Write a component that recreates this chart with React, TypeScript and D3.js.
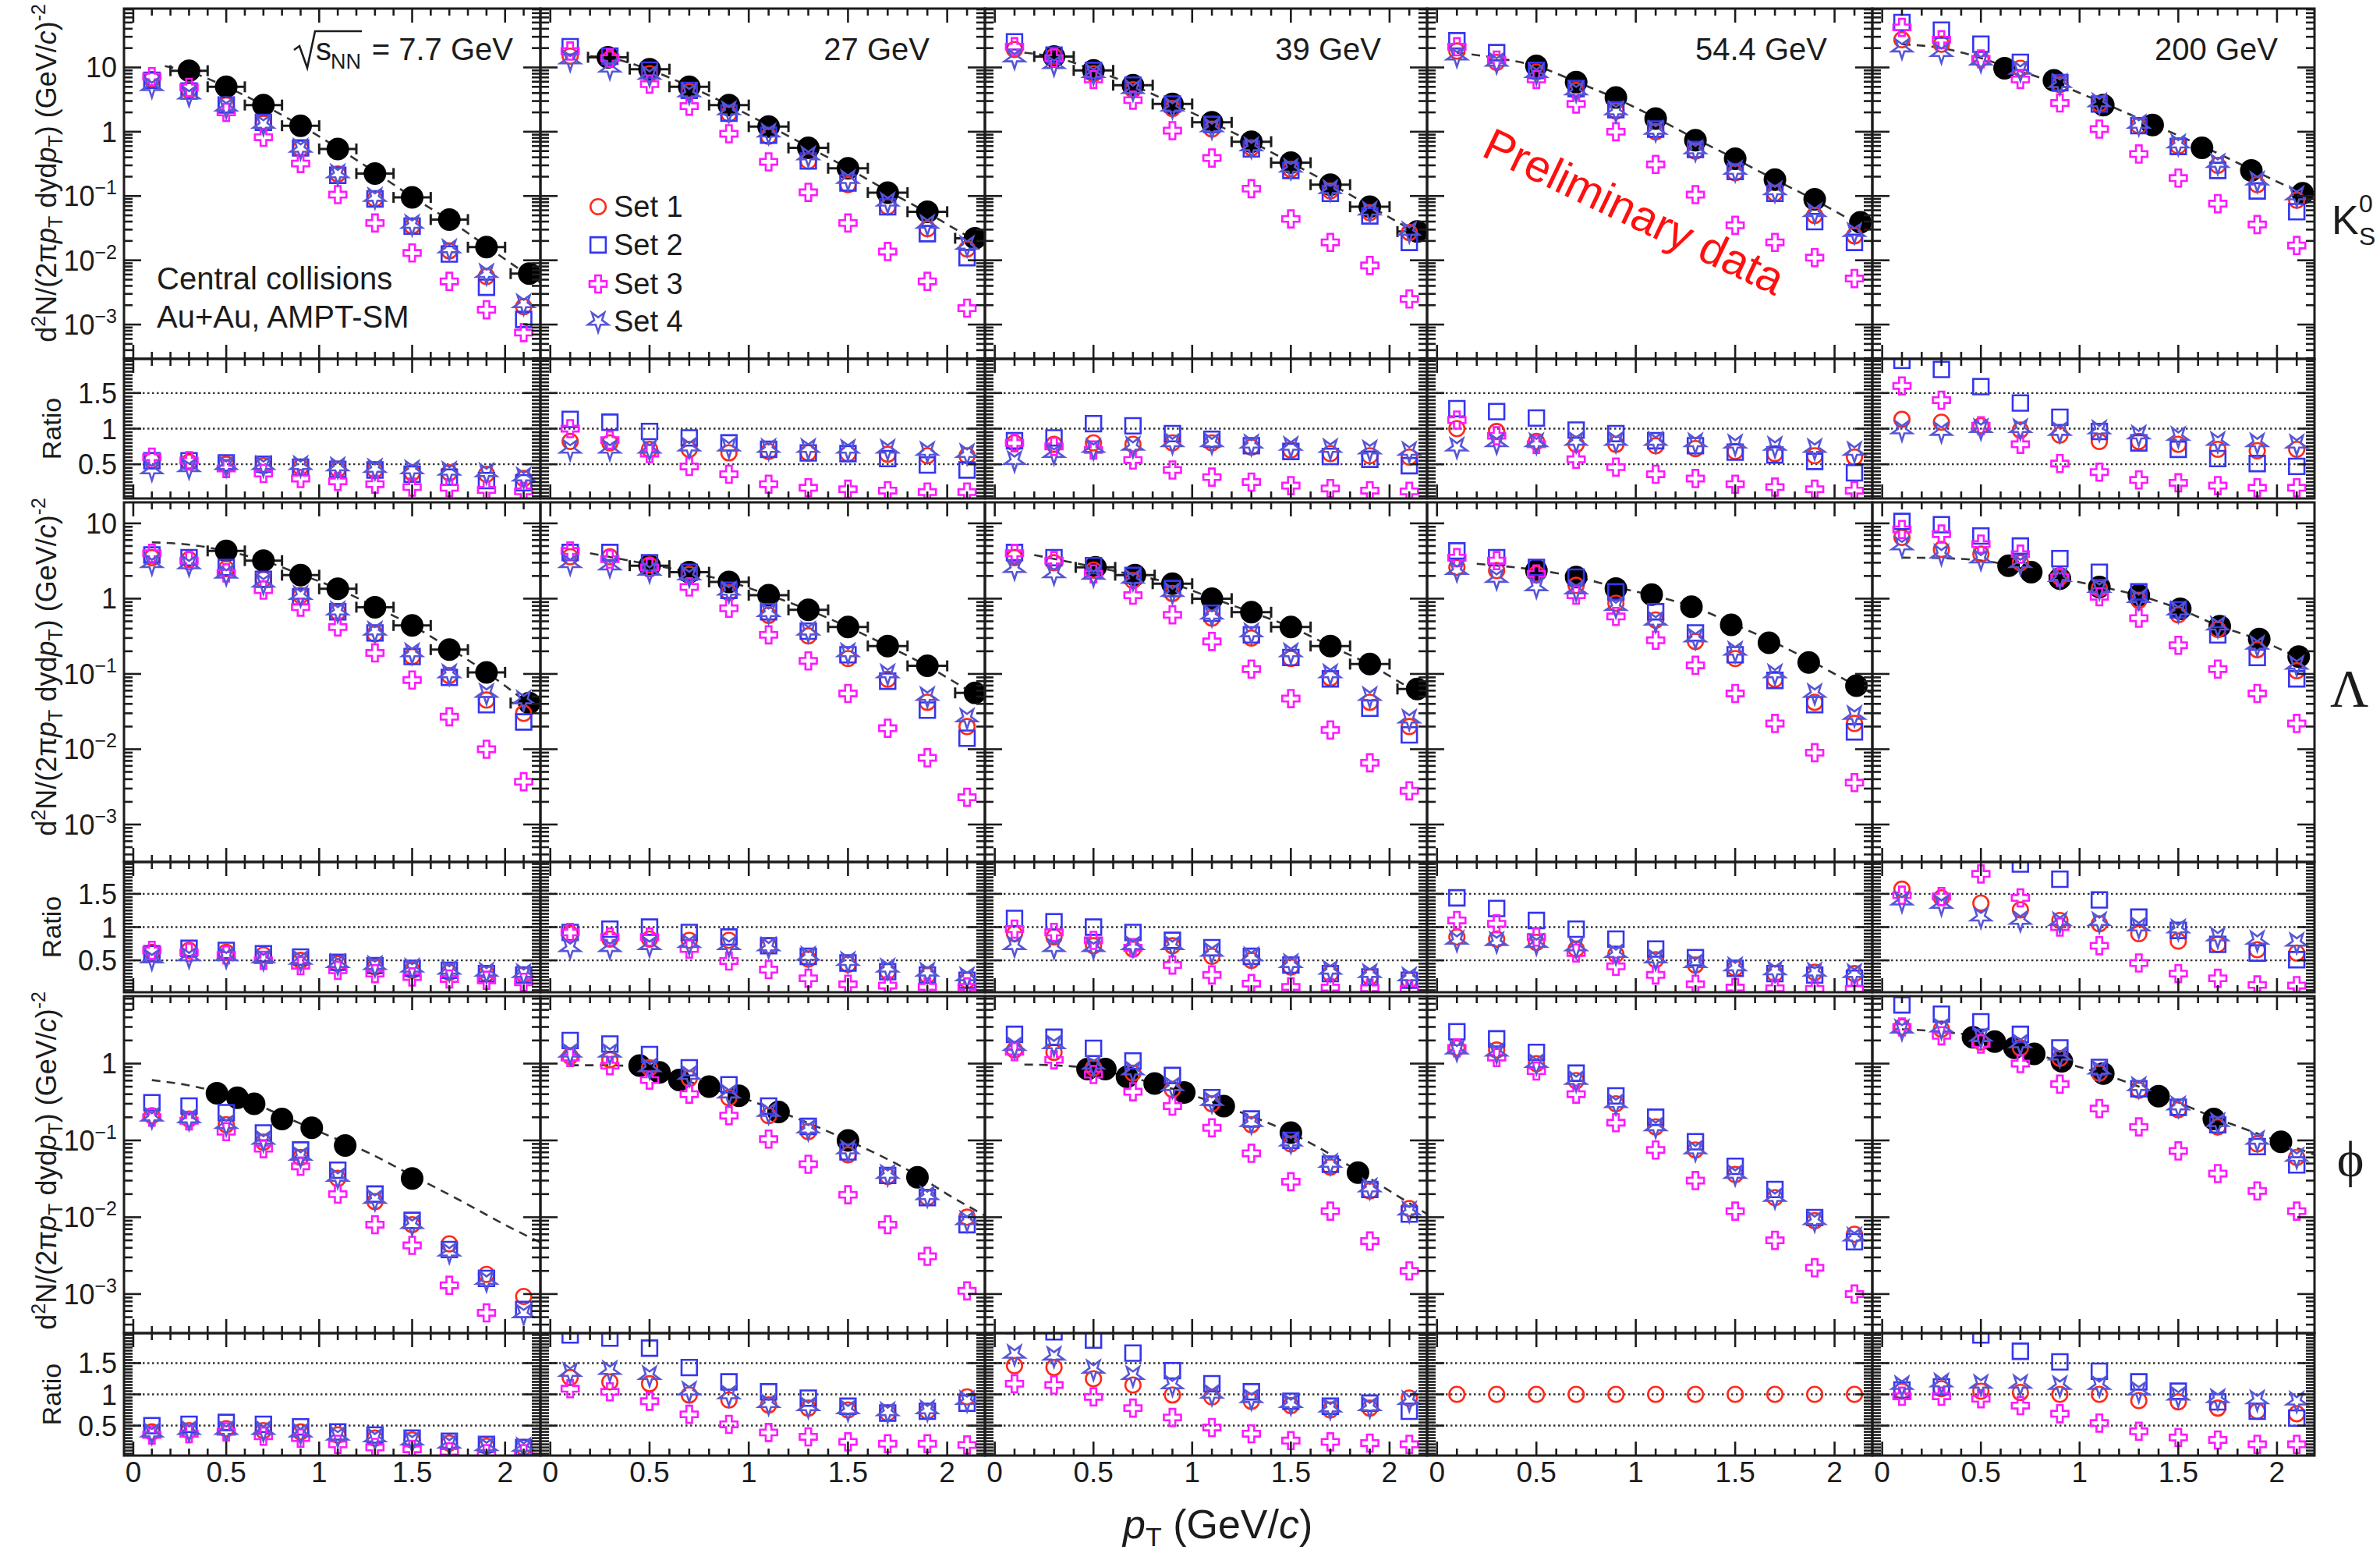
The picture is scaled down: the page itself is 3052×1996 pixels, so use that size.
import React from 'react';
import * as d3 from 'd3';

// ---- data ----
const pT = [0.1, 0.3, 0.5, 0.7, 0.9, 1.1, 1.3, 1.5, 1.7, 1.9, 2.1];
const energyLabels = ['7.7', '27', '39', '54.4', '200'];
const setLabels = ['Set 1', 'Set 2', 'Set 3', 'Set 4'];
const xTickValues = [0, 0.5, 1, 1.5, 2];
const xTickLabels = ['0', '0.5', '1', '1.5', '2'];
const ratioTickValues = [0.5, 1, 1.5];
const ratioTickLabels = ['0.5', '1', '1.5'];

// K0S spectra, one row per energy (7.7, 27, 39, 54.4, 200)
const k0sSet1 = [
  [6.5, 4.5, 2.6, 1.35, 0.55, 0.22, 0.09, 0.034, 0.014, 0.0056, 0.0019],
  [15, 13.5, 8, 4.2, 1.9, 0.85, 0.35, 0.15, 0.068, 0.031, 0.015],
  [19, 15, 8, 4.5, 2.3, 1.1, 0.56, 0.26, 0.12, 0.055, 0.027],
  [18, 12, 8.5, 4.4, 2.1, 1.0, 0.5, 0.23, 0.11, 0.05, 0.024],
  [27, 23, 13.6, 9.7, 5.4, 2.7, 1.24, 0.6, 0.3, 0.15, 0.086],
];
const k0sSet2 = [
  [6.3, 4.3, 2.6, 1.4, 0.56, 0.21, 0.09, 0.034, 0.0125, 0.0038, 0.0012],
  [21, 15, 9.1, 4.4, 1.95, 0.88, 0.35, 0.16, 0.068, 0.026, 0.011],
  [25, 15.6, 9, 5.3, 2.7, 1.3, 0.54, 0.25, 0.11, 0.049, 0.019],
  [26, 17, 9, 4.7, 2.2, 1.1, 0.53, 0.24, 0.11, 0.04, 0.019],
  [50, 38, 23, 12, 5.8, 2.7, 1.24, 0.59, 0.25, 0.12, 0.057],
];
const k0sSet3 = [
  [7.2, 4.9, 2.0, 0.82, 0.32, 0.105, 0.038, 0.013, 0.0047, 0.0017, 0.00075],
  [18, 14, 5.5, 2.5, 0.93, 0.34, 0.114, 0.038, 0.0137, 0.0047, 0.0018],
  [21, 14, 6.5, 3.1, 1.04, 0.39, 0.13, 0.044, 0.019, 0.0083, 0.0025],
  [21, 13, 6.5, 2.7, 1.0, 0.31, 0.105, 0.035, 0.019, 0.011, 0.0052],
  [42, 27, 13.6, 6.5, 2.8, 1.1, 0.45, 0.19, 0.076, 0.036, 0.017],
];
const k0sSet4 = [
  [5.0, 3.7, 2.4, 1.3, 0.55, 0.22, 0.095, 0.036, 0.015, 0.0062, 0.0021],
  [13, 9.7, 7.5, 4.0, 2.1, 0.95, 0.42, 0.18, 0.08, 0.036, 0.017],
  [14, 11, 8, 4.5, 2.4, 1.15, 0.58, 0.27, 0.125, 0.058, 0.028],
  [15, 12, 8, 4.3, 2.1, 1.05, 0.52, 0.25, 0.12, 0.055, 0.027],
  [20, 17, 12.5, 9, 5.6, 2.8, 1.3, 0.64, 0.32, 0.17, 0.1],
];
const k0sRatio1 = [
  [0.55, 0.53, 0.5, 0.48, 0.46, 0.43, 0.42, 0.38, 0.38, 0.36, 0.3],
  [0.82, 0.8, 0.71, 0.71, 0.66, 0.68, 0.66, 0.65, 0.64, 0.62, 0.62],
  [0.8, 0.78, 0.8, 0.78, 0.8, 0.8, 0.74, 0.7, 0.65, 0.62, 0.6],
  [1.0, 0.96, 0.82, 0.78, 0.78, 0.76, 0.72, 0.68, 0.65, 0.62, 0.6],
  [1.13, 1.09, 1.04, 0.98, 0.91, 0.82, 0.82, 0.78, 0.71, 0.69, 0.71],
];
const k0sRatio2 = [
  [0.55, 0.55, 0.52, 0.5, 0.46, 0.43, 0.42, 0.36, 0.32, 0.27, 0.24],
  [1.13, 1.09, 0.96, 0.87, 0.8, 0.71, 0.66, 0.65, 0.58, 0.49, 0.42],
  [0.83, 0.87, 1.07, 1.04, 0.93, 0.85, 0.76, 0.68, 0.61, 0.57, 0.48],
  [1.28, 1.24, 1.15, 0.98, 0.93, 0.83, 0.76, 0.67, 0.63, 0.54, 0.38],
  [1.96, 1.83, 1.59, 1.36, 1.16, 0.96, 0.8, 0.71, 0.58, 0.51, 0.47],
];
const k0sRatio3 = [
  [0.6, 0.55, 0.44, 0.37, 0.3, 0.26, 0.22, 0.18, 0.17, 0.14, 0.12],
  [1.0, 0.84, 0.65, 0.47, 0.36, 0.22, 0.17, 0.15, 0.13, 0.11, 0.11],
  [0.8, 0.75, 0.7, 0.56, 0.42, 0.32, 0.25, 0.2, 0.16, 0.13, 0.12],
  [1.12, 0.9, 0.78, 0.57, 0.46, 0.36, 0.3, 0.22, 0.18, 0.15, 0.13],
  [1.6, 1.4, 1.04, 0.78, 0.51, 0.39, 0.28, 0.24, 0.2, 0.17, 0.17],
];
const k0sRatio4 = [
  [0.42, 0.45, 0.48, 0.48, 0.48, 0.46, 0.44, 0.42, 0.4, 0.38, 0.32],
  [0.71, 0.71, 0.71, 0.74, 0.74, 0.72, 0.72, 0.71, 0.71, 0.68, 0.65],
  [0.55, 0.65, 0.72, 0.75, 0.8, 0.8, 0.78, 0.75, 0.72, 0.7, 0.68],
  [0.74, 0.8, 0.8, 0.82, 0.82, 0.82, 0.8, 0.78, 0.75, 0.72, 0.68],
  [0.98, 0.96, 1.0, 1.0, 0.96, 0.98, 0.91, 0.89, 0.82, 0.8, 0.78],
];
const k0sDataPt = [
  [0.3, 0.5, 0.7, 0.9, 1.1, 1.3, 1.5, 1.7, 1.9, 2.13],
  [0.29, 0.5, 0.7, 0.9, 1.1, 1.3, 1.5, 1.7, 1.9, 2.14],
  [0.3, 0.5, 0.7, 0.9, 1.1, 1.3, 1.5, 1.7, 1.9, 2.14],
  [0.5, 0.7, 0.9, 1.1, 1.3, 1.5, 1.7, 1.9, 2.13],
  [0.62, 0.87, 1.12, 1.37, 1.62, 1.87, 2.13],
];
const k0sDataY = [
  [8.9, 5.0, 2.6, 1.24, 0.54, 0.224, 0.095, 0.043, 0.016, 0.0062],
  [14.4, 9.4, 5.0, 2.6, 1.2, 0.56, 0.27, 0.113, 0.057, 0.022],
  [14.8, 9, 5.3, 2.7, 1.4, 0.7, 0.33, 0.15, 0.068, 0.028],
  [10.6, 5.9, 3.4, 1.6, 0.74, 0.38, 0.18, 0.089, 0.039],
  [9.7, 6.3, 2.6, 1.27, 0.56, 0.25, 0.11],
];
const k0sFit = [
  [[0.17, 10.5], [0.3, 8.6], [0.5, 5.0], [0.7, 2.6], [0.9, 1.25], [1.1, 0.56], [1.3, 0.235], [1.5, 0.097], [1.7, 0.042], [1.9, 0.0165], [2.1, 0.0066], [2.19, 0.0045]],
  [[0.2, 15], [0.3, 14], [0.5, 9.2], [0.7, 5.1], [0.9, 2.6], [1.1, 1.25], [1.3, 0.58], [1.5, 0.27], [1.7, 0.12], [1.9, 0.055], [2.1, 0.024], [2.19, 0.017]],
  [[0.15, 17], [0.3, 14.5], [0.5, 9.2], [0.7, 5.3], [0.9, 2.75], [1.1, 1.4], [1.3, 0.7], [1.5, 0.33], [1.7, 0.155], [1.9, 0.07], [2.1, 0.031], [2.19, 0.022]],
  [[0.1, 17], [0.3, 14], [0.5, 10.5], [0.7, 6], [0.9, 3.3], [1.1, 1.65], [1.3, 0.78], [1.5, 0.38], [1.7, 0.18], [1.9, 0.087], [2.1, 0.04], [2.19, 0.03]],
  [[0.1, 23], [0.3, 20], [0.5, 14], [0.62, 10.5], [0.87, 5.8], [1.12, 2.8], [1.37, 1.3], [1.62, 0.6], [1.87, 0.26], [2.12, 0.115], [2.19, 0.095]],
];
const k0sErrBars = [true, true, true, false, false];

// Lambda
const lamSet1 = [
  [3.5, 3.3, 2.5, 1.8, 1.1, 0.66, 0.34, 0.17, 0.095, 0.045, 0.03],
  [3.6, 3.6, 2.8, 2.1, 1.2, 0.6, 0.32, 0.16, 0.085, 0.042, 0.02],
  [3.5, 3.0, 2.4, 1.74, 1.17, 0.55, 0.3, 0.16, 0.088, 0.042, 0.02],
  [2.6, 2.36, 2.13, 1.5, 0.87, 0.52, 0.27, 0.16, 0.085, 0.042, 0.022],
  [6.5, 4.5, 3.9, 3.0, 1.93, 1.36, 0.95, 0.61, 0.39, 0.21, 0.11],
];
const lamSet2 = [
  [3.8, 3.5, 2.6, 1.8, 1.06, 0.67, 0.35, 0.17, 0.09, 0.039, 0.023],
  [4.1, 4.1, 3.0, 2.24, 1.29, 0.67, 0.37, 0.18, 0.08, 0.033, 0.014],
  [4.1, 3.5, 2.74, 2.03, 1.36, 0.64, 0.33, 0.165, 0.086, 0.035, 0.0155],
  [4.3, 3.5, 2.6, 1.93, 1.23, 0.67, 0.35, 0.18, 0.082, 0.039, 0.017],
  [10.6, 9.6, 6.8, 5.0, 3.4, 2.24, 1.23, 0.71, 0.33, 0.165, 0.086],
];
const lamSet3 = [
  [4.0, 3.2, 2.2, 1.3, 0.77, 0.42, 0.19, 0.083, 0.027, 0.01, 0.0037],
  [4.3, 3.35, 2.6, 1.43, 0.745, 0.33, 0.149, 0.055, 0.019, 0.0077, 0.0023],
  [4.0, 3.2, 2.13, 1.11, 0.61, 0.27, 0.116, 0.047, 0.018, 0.0066, 0.0028],
  [3.5, 3.2, 2.13, 1.11, 0.58, 0.28, 0.13, 0.055, 0.022, 0.009, 0.0036],
  [8.3, 7.2, 5.3, 3.9, 1.93, 1.06, 0.55, 0.24, 0.116, 0.055, 0.022],
];
const lamSet4 = [
  [2.9, 2.8, 2.1, 1.6, 1.1, 0.68, 0.37, 0.19, 0.1, 0.055, 0.045],
  [2.9, 2.7, 2.3, 2.0, 1.25, 0.65, 0.37, 0.19, 0.1, 0.05, 0.026],
  [2.5, 2.13, 2.03, 1.8, 1.2, 0.6, 0.35, 0.19, 0.1, 0.05, 0.025],
  [2.36, 1.85, 1.43, 1.3, 0.78, 0.5, 0.3, 0.2, 0.1, 0.055, 0.028],
  [5.0, 3.9, 3.35, 2.9, 1.9, 1.36, 1.0, 0.68, 0.43, 0.24, 0.13],
];
const lamRatio1 = [
  [0.62, 0.65, 0.62, 0.58, 0.5, 0.45, 0.4, 0.35, 0.32, 0.3, 0.28],
  [0.9, 0.82, 0.82, 0.8, 0.8, 0.72, 0.52, 0.44, 0.33, 0.27, 0.2],
  [0.9, 0.85, 0.72, 0.67, 0.72, 0.56, 0.5, 0.4, 0.3, 0.25, 0.2],
  [0.85, 0.82, 0.77, 0.67, 0.59, 0.51, 0.43, 0.38, 0.3, 0.32, 0.3],
  [1.57, 1.44, 1.36, 1.26, 1.1, 1.05, 0.9, 0.79, 0.74, 0.66, 0.61],
];
const lamRatio2 = [
  [0.6, 0.68, 0.65, 0.6, 0.55, 0.47, 0.42, 0.38, 0.35, 0.3, 0.28],
  [0.92, 0.97, 1.0, 0.92, 0.85, 0.72, 0.56, 0.46, 0.33, 0.28, 0.2],
  [1.13, 1.08, 1.0, 0.92, 0.8, 0.69, 0.56, 0.43, 0.3, 0.25, 0.2],
  [1.44, 1.28, 1.1, 0.97, 0.82, 0.67, 0.54, 0.38, 0.3, 0.28, 0.23],
  [2.3, 2.2, 2.1, 1.95, 1.72, 1.41, 1.15, 0.95, 0.74, 0.61, 0.51],
];
const lamRatio3 = [
  [0.65, 0.62, 0.58, 0.5, 0.42, 0.35, 0.3, 0.25, 0.22, 0.2, 0.17],
  [0.92, 0.85, 0.85, 0.67, 0.49, 0.36, 0.23, 0.14, 0.12, 0.1, 0.1],
  [0.97, 0.92, 0.8, 0.69, 0.43, 0.28, 0.15, 0.1, 0.09, 0.08, 0.07],
  [1.1, 1.05, 0.85, 0.61, 0.41, 0.28, 0.14, 0.09, 0.08, 0.07, 0.07],
  [1.48, 1.46, 1.8, 1.44, 1.0, 0.72, 0.46, 0.3, 0.23, 0.13, 0.12],
];
const lamRatio4 = [
  [0.52, 0.55, 0.55, 0.52, 0.5, 0.45, 0.42, 0.38, 0.35, 0.32, 0.3],
  [0.69, 0.69, 0.72, 0.75, 0.72, 0.7, 0.56, 0.48, 0.38, 0.32, 0.25],
  [0.72, 0.69, 0.69, 0.72, 0.72, 0.62, 0.55, 0.45, 0.35, 0.3, 0.25],
  [0.8, 0.78, 0.75, 0.7, 0.6, 0.52, 0.45, 0.4, 0.34, 0.32, 0.3],
  [1.39, 1.34, 1.15, 1.1, 1.08, 1.08, 1.0, 0.97, 0.85, 0.8, 0.77],
];
const lamDataPt = [
  [0.5, 0.7, 0.9, 1.1, 1.3, 1.5, 1.7, 1.9, 2.13],
  [0.5, 0.7, 0.9, 1.1, 1.3, 1.5, 1.7, 1.9, 2.14],
  [0.51, 0.71, 0.9, 1.1, 1.3, 1.5, 1.7, 1.9, 2.14],
  [0.5, 0.7, 0.9, 1.08, 1.28, 1.48, 1.67, 1.87, 2.11],
  [0.64, 0.755, 0.9, 1.1, 1.3, 1.51, 1.71, 1.91, 2.11],
];
const lamDataY = [
  [4.3, 3.2, 2.05, 1.35, 0.77, 0.44, 0.21, 0.105, 0.041],
  [2.74, 2.24, 1.67, 1.11, 0.71, 0.42, 0.235, 0.128, 0.056],
  [2.6, 2.05, 1.58, 1.0, 0.66, 0.42, 0.235, 0.135, 0.063],
  [2.36, 1.93, 1.36, 1.13, 0.78, 0.45, 0.26, 0.142, 0.07],
  [2.74, 2.24, 1.84, 1.43, 1.11, 0.73, 0.43, 0.29, 0.17],
];
const lamFit = [
  [[0.1, 5.6], [0.3, 5.2], [0.5, 4.3], [0.7, 3.2], [0.9, 2.1], [1.1, 1.35], [1.3, 0.78], [1.5, 0.44], [1.7, 0.22], [1.9, 0.105], [2.1, 0.045], [2.19, 0.03]],
  [[0.2, 4.0], [0.5, 2.85], [0.7, 2.25], [0.9, 1.68], [1.1, 1.12], [1.3, 0.71], [1.5, 0.42], [1.7, 0.235], [1.9, 0.127], [2.1, 0.062], [2.19, 0.045]],
  [[0.2, 3.8], [0.5, 2.65], [0.7, 2.08], [0.9, 1.58], [1.1, 1.02], [1.3, 0.66], [1.5, 0.42], [1.7, 0.235], [1.9, 0.133], [2.1, 0.066], [2.19, 0.05]],
  [[0.2, 2.9], [0.5, 2.4], [0.7, 1.95], [0.9, 1.42], [1.1, 1.08], [1.3, 0.76], [1.5, 0.45], [1.7, 0.26], [1.9, 0.14], [2.1, 0.072], [2.19, 0.055]],
  [[0.1, 3.5], [0.3, 3.45], [0.5, 3.2], [0.64, 2.8], [0.76, 2.3], [0.9, 1.88], [1.1, 1.45], [1.3, 1.1], [1.5, 0.74], [1.7, 0.44], [1.9, 0.29], [2.1, 0.17], [2.19, 0.135]],
];
const lamErrBars = [true, true, true, false, false];

// phi
const phiSet1 = [
  [0.21, 0.19, 0.16, 0.095, 0.06, 0.032, 0.016, 0.008, 0.0045, 0.0018, 0.00093],
  [1.24, 1.12, 0.88, 0.64, 0.36, 0.21, 0.13, 0.065, 0.034, 0.018, 0.01],
  [1.5, 1.4, 0.88, 0.75, 0.46, 0.3, 0.16, 0.09, 0.045, 0.022, 0.013],
  [1.6, 1.5, 1.0, 0.6, 0.3, 0.15, 0.075, 0.036, 0.018, 0.009, 0.006],
  [3.0, 2.8, 1.9, 1.6, 1.17, 0.75, 0.45, 0.25, 0.15, 0.09, 0.06],
];
const phiSet2 = [
  [0.31, 0.28, 0.23, 0.125, 0.075, 0.041, 0.02, 0.0091, 0.0038, 0.0016, 0.00063],
  [2.0, 1.8, 1.31, 0.88, 0.53, 0.28, 0.152, 0.071, 0.035, 0.018, 0.008],
  [2.4, 2.2, 1.58, 1.08, 0.7, 0.36, 0.19, 0.1, 0.049, 0.023, 0.011],
  [2.6, 2.1, 1.4, 0.75, 0.38, 0.2, 0.096, 0.046, 0.023, 0.0099, 0.0048],
  [5.8, 4.4, 3.5, 2.4, 1.6, 0.89, 0.47, 0.27, 0.16, 0.083, 0.048],
];
const phiSet3 = [
  [0.2, 0.18, 0.13, 0.078, 0.046, 0.02, 0.008, 0.0043, 0.0013, 0.00057, 0.0002],
  [1.2, 0.94, 0.61, 0.4, 0.21, 0.104, 0.049, 0.0196, 0.008, 0.0031, 0.0011],
  [1.43, 1.12, 0.72, 0.43, 0.28, 0.146, 0.068, 0.029, 0.012, 0.0049, 0.002],
  [1.6, 1.2, 0.8, 0.4, 0.17, 0.075, 0.03, 0.012, 0.005, 0.0022, 0.001],
  [3.0, 2.3, 1.8, 1.0, 0.54, 0.26, 0.15, 0.073, 0.037, 0.022, 0.012],
];
const phiSet4 = [
  [0.2, 0.19, 0.16, 0.1, 0.062, 0.033, 0.017, 0.008, 0.0035, 0.0015, 0.00055],
  [1.36, 1.36, 0.88, 0.7, 0.4, 0.23, 0.14, 0.075, 0.036, 0.019, 0.009],
  [1.66, 1.75, 0.95, 0.8, 0.5, 0.32, 0.17, 0.095, 0.05, 0.024, 0.012],
  [1.5, 1.4, 1.0, 0.6, 0.3, 0.15, 0.075, 0.036, 0.018, 0.009, 0.0055],
  [2.8, 2.9, 2.2, 1.8, 1.25, 0.82, 0.5, 0.28, 0.17, 0.1, 0.06],
];
const phiRatio1 = [
  [0.4, 0.42, 0.45, 0.42, 0.4, 0.35, 0.3, 0.27, 0.22, 0.17, 0.15],
  [1.27, 1.2, 1.17, 0.99, 0.91, 0.83, 0.78, 0.75, 0.7, 0.73, 0.96],
  [1.46, 1.43, 1.25, 1.15, 0.99, 0.96, 0.89, 0.82, 0.75, 0.78, 0.94],
  [1, 1, 1, 1, 1, 1, 1, 1, 1, 1, 1],
  [1.05, 1.09, 1.05, 1.03, 1.0, 1.0, 0.9, 0.88, 0.78, 0.73, 0.69],
];
const phiRatio2 = [
  [0.5, 0.52, 0.55, 0.52, 0.48, 0.4, 0.35, 0.3, 0.25, 0.2, 0.15],
  [1.95, 1.9, 1.74, 1.43, 1.2, 1.04, 0.94, 0.81, 0.7, 0.73, 0.86],
  [2.1, 2.0, 1.87, 1.66, 1.38, 1.17, 1.04, 0.89, 0.81, 0.86, 0.73],
  [],
  [1.07, 1.12, 1.95, 1.69, 1.52, 1.37, 1.2, 1.05, 0.88, 0.73, 0.62],
];
const phiRatio3 = [
  [0.35, 0.37, 0.4, 0.33, 0.3, 0.2, 0.15, 0.12, 0.08, 0.05, 0.05],
  [1.09, 1.04, 0.89, 0.68, 0.52, 0.39, 0.32, 0.24, 0.21, 0.21, 0.19],
  [1.17, 1.15, 0.96, 0.78, 0.63, 0.47, 0.37, 0.26, 0.24, 0.22, 0.2],
  [],
  [0.97, 0.97, 0.93, 0.82, 0.69, 0.54, 0.41, 0.31, 0.27, 0.2, 0.2],
];
const phiRatio4 = [
  [0.38, 0.42, 0.42, 0.42, 0.38, 0.33, 0.3, 0.25, 0.2, 0.16, 0.15],
  [1.35, 1.38, 1.3, 1.05, 0.99, 0.85, 0.8, 0.75, 0.72, 0.75, 0.9],
  [1.64, 1.61, 1.4, 1.3, 1.15, 1.0, 0.93, 0.85, 0.78, 0.8, 0.9],
  [],
  [1.14, 1.18, 1.16, 1.16, 1.14, 1.14, 1.05, 0.97, 0.93, 0.91, 0.89],
];
const phiDataPt = [
  [0.45, 0.56, 0.65, 0.8, 0.96, 1.14, 1.5],
  [0.45, 0.55, 0.65, 0.8, 0.95, 1.15, 1.5, 1.85],
  [0.47, 0.56, 0.67, 0.81, 0.96, 1.16, 1.5, 1.84],
  [],
  [0.46, 0.57, 0.67, 0.77, 0.91, 1.12, 1.4, 1.68, 2.02],
];
const phiDataY = [
  [0.41, 0.36, 0.3, 0.19, 0.146, 0.086, 0.032],
  [0.94, 0.77, 0.61, 0.5, 0.38, 0.235, 0.1, 0.033],
  [0.85, 0.85, 0.67, 0.55, 0.42, 0.28, 0.126, 0.038],
  [],
  [2.2, 1.93, 1.6, 1.34, 1.07, 0.74, 0.376, 0.19, 0.096],
];
const phiFit = [
  [[0.1, 0.61], [0.3, 0.52], [0.45, 0.43], [0.6, 0.34], [0.8, 0.21], [1.0, 0.13], [1.27, 0.068], [1.5, 0.035], [1.73, 0.018], [2.05, 0.0069], [2.19, 0.0047]],
  [[0.1, 0.95], [0.3, 0.95], [0.45, 0.9], [0.55, 0.78], [0.65, 0.64], [0.8, 0.48], [0.95, 0.37], [1.15, 0.24], [1.5, 0.1], [1.85, 0.035], [2.0, 0.02], [2.19, 0.0105]],
  [[0.15, 0.97], [0.3, 0.95], [0.47, 0.88], [0.56, 0.8], [0.67, 0.68], [0.81, 0.55], [0.96, 0.42], [1.16, 0.28], [1.5, 0.125], [1.84, 0.04], [2.0, 0.022], [2.19, 0.011]],
  [],
  [[0.1, 2.8], [0.3, 2.6], [0.46, 2.3], [0.57, 1.95], [0.67, 1.62], [0.77, 1.35], [0.91, 1.05], [1.12, 0.73], [1.4, 0.4], [1.68, 0.2], [2.02, 0.095], [2.19, 0.065]],
];
const phiErrBars = [false, false, false, false, false];

// ---- layout ----
const W = 3052;
const H = 1996;
const FONT = '"Liberation Sans", Arial, Helvetica, sans-serif';
const SERIF = '"Liberation Serif", "DejaVu Serif", serif';
const INK = '#1c1c1c';

const colEdges = [159, 693, 1263, 1830, 2401, 2968];
const specTop = [11, 644, 1277];
const specBottom = [460, 1105, 1709];
const ratioBottom = [639, 1272, 1866];
const specDomain = [[2.93e-4, 82.4], [3.18e-4, 19], [3.1e-4, 7.55]];
const ratioDomain = [0.02, 1.98];
const xDomain = [-0.05, 2.19];
const energyRight = [658, 1192, 1771, 2343, 2921];

const rows = [
  { sets: [k0sSet1, k0sSet2, k0sSet3, k0sSet4], ratios: [k0sRatio1, k0sRatio2, k0sRatio3, k0sRatio4], dataPt: k0sDataPt, dataY: k0sDataY, fit: k0sFit, err: k0sErrBars },
  { sets: [lamSet1, lamSet2, lamSet3, lamSet4], ratios: [lamRatio1, lamRatio2, lamRatio3, lamRatio4], dataPt: lamDataPt, dataY: lamDataY, fit: lamFit, err: lamErrBars },
  { sets: [phiSet1, phiSet2, phiSet3, phiSet4], ratios: [phiRatio1, phiRatio2, phiRatio3, phiRatio4], dataPt: phiDataPt, dataY: phiDataY, fit: phiFit, err: phiErrBars },
];

const colors = ['#ff2a1a', '#3535f0', '#ff19ff', '#5656d6'];
const symbolTypes = [d3.symbolCircle, d3.symbolSquare, d3.symbolCross, d3.symbolStar];
const symbolSizes = [300, 390, 270, 210];
const symbolPaths = symbolTypes.map((t, i) => d3.symbol().type(t).size(symbolSizes[i])() as string);

const xMinor = d3.range(1, 22).map((i) => i / 10).filter((v) => !xTickValues.some((m) => Math.abs(m - v) < 1e-6));
const ratioMinor = d3.range(1, 40).map((i) => i * 0.05).filter((v) => !ratioTickValues.some((m) => Math.abs(m - v) < 1e-6));

function logTicks(domain: number[]) {
  const major: number[] = [];
  const minor: number[] = [];
  const k0 = Math.floor(Math.log10(domain[0]));
  const k1 = Math.ceil(Math.log10(domain[1]));
  for (let k = k0; k <= k1; k++) {
    for (let d = 1; d < 10; d++) {
      const v = d * Math.pow(10, k);
      if (v < domain[0] || v > domain[1]) continue;
      if (d === 1) major.push(v);
      else minor.push(v);
    }
  }
  return { major, minor };
}

const Marker = ({ i, x, y }: { i: number; x: number; y: number }) => (
  <path
    d={symbolPaths[i]}
    transform={`translate(${x},${y})${i === 3 ? ' rotate(180)' : ''}`}
    fill="none"
    stroke={colors[i]}
    strokeWidth={2.6}
  />
);

const LogLabel = ({ v, x, y }: { v: number; x: number; y: number }) => {
  const k = Math.round(Math.log10(v));
  if (k === 0) return <text x={x} y={y} textAnchor="end">1</text>;
  if (k === 1) return <text x={x} y={y} textAnchor="end">10</text>;
  return (
    <text x={x} y={y} textAnchor="end">
      10<tspan dy={-15} fontSize={25}>{`\u2212${-k}`}</tspan>
    </text>
  );
};

function Panel({ row, col }: { row: number; col: number }) {
  const r = rows[row];
  const x0 = colEdges[col];
  const x1 = colEdges[col + 1];
  const sTop = specTop[row];
  const sBot = specBottom[row];
  const rBot = ratioBottom[row];
  const x = d3.scaleLinear().domain(xDomain).range([x0, x1]);
  const y = d3.scaleLog().domain(specDomain[row]).range([sBot, sTop]);
  const yr = d3.scaleLinear().domain(ratioDomain).range([rBot, sBot]);
  const clipS = `clipS${row}${col}`;
  const clipR = `clipR${row}${col}`;
  const fitLine = d3
    .line<number[]>()
    .x((d) => x(d[0]))
    .y((d) => y(d[1]))
    .curve(d3.curveMonotoneX);
  const lt = logTicks(specDomain[row]);
  const fit = r.fit[col];
  const dPt = r.dataPt[col];
  const dY = r.dataY[col];

  const xTicks = (yb: number, yt: number, key: string) => (
    <g key={key}>
      {xTickValues.map((v) => (
        <g key={`M${v}`}>
          <line x1={x(v)} x2={x(v)} y1={yb} y2={yb - 18} />
          <line x1={x(v)} x2={x(v)} y1={yt} y2={yt + 18} />
        </g>
      ))}
      {xMinor.map((v) => (
        <g key={`m${v}`}>
          <line x1={x(v)} x2={x(v)} y1={yb} y2={yb - 9} />
          <line x1={x(v)} x2={x(v)} y1={yt} y2={yt + 9} />
        </g>
      ))}
    </g>
  );

  return (
    <g>
      <defs>
        <clipPath id={clipS}>
          <rect x={x0} y={sTop} width={x1 - x0} height={sBot - sTop} />
        </clipPath>
        <clipPath id={clipR}>
          <rect x={x0} y={sBot} width={x1 - x0} height={rBot - sBot} />
        </clipPath>
      </defs>

      {/* spectrum */}
      <g clipPath={`url(#${clipS})`}>
        {fit.length > 0 && (
          <path d={fitLine(fit) as string} fill="none" stroke="#333" strokeWidth={2.6} strokeDasharray="11 8" />
        )}
        {r.err[col] &&
          dPt.map((p, i) => (
            <g key={`e${i}`} stroke={INK} strokeWidth={3}>
              <line x1={x(p - 0.1)} x2={x(p + 0.1)} y1={y(dY[i])} y2={y(dY[i])} />
              <line x1={x(p - 0.1)} x2={x(p - 0.1)} y1={y(dY[i]) - 7} y2={y(dY[i]) + 7} />
              <line x1={x(p + 0.1)} x2={x(p + 0.1)} y1={y(dY[i]) - 7} y2={y(dY[i]) + 7} />
            </g>
          ))}
        {dPt.map((p, i) => (
          <circle key={`d${i}`} cx={x(p)} cy={y(dY[i])} r={14.5} fill="#000" />
        ))}
        {r.sets.map((s, si) =>
          s[col].map((v, i) => <Marker key={`s${si}-${i}`} i={si} x={x(pT[i])} y={y(v)} />)
        )}
      </g>

      {/* ratio */}
      <g stroke="#333" strokeWidth={2.4} strokeDasharray="2.5 3.5">
        {ratioTickValues.map((v) => (
          <line key={v} x1={x0} x2={x1} y1={yr(v)} y2={yr(v)} />
        ))}
      </g>
      <g clipPath={`url(#${clipR})`}>
        {r.ratios.map((s, si) =>
          s[col].map((v, i) => <Marker key={`r${si}-${i}`} i={si} x={x(pT[i])} y={yr(v)} />)
        )}
      </g>

      {/* frames and ticks */}
      <g stroke={INK} strokeWidth={2.6} fill="none">
        <rect x={x0} y={sTop} width={x1 - x0} height={sBot - sTop} strokeWidth={3} />
        <rect x={x0} y={sBot} width={x1 - x0} height={rBot - sBot} strokeWidth={3} />
        {xTicks(sBot, sTop, 'xs')}
        {xTicks(rBot, sBot, 'xr')}
        {lt.major.map((v) => (
          <g key={`ly${v}`}>
            <line x1={x0} x2={x0 + 22} y1={y(v)} y2={y(v)} />
            <line x1={x1} x2={x1 - 22} y1={y(v)} y2={y(v)} />
          </g>
        ))}
        {lt.minor.map((v) => (
          <g key={`lm${v}`}>
            <line x1={x0} x2={x0 + 11} y1={y(v)} y2={y(v)} />
            <line x1={x1} x2={x1 - 11} y1={y(v)} y2={y(v)} />
          </g>
        ))}
        {ratioTickValues.map((v) => (
          <g key={`ry${v}`}>
            <line x1={x0} x2={x0 + 22} y1={yr(v)} y2={yr(v)} />
            <line x1={x1} x2={x1 - 22} y1={yr(v)} y2={yr(v)} />
          </g>
        ))}
        {ratioMinor.map((v) => (
          <g key={`rm${v}`}>
            <line x1={x0} x2={x0 + 11} y1={yr(v)} y2={yr(v)} />
            <line x1={x1} x2={x1 - 11} y1={yr(v)} y2={yr(v)} />
          </g>
        ))}
      </g>

      {/* tick labels */}
      {col === 0 && (
        <g fontSize={36} fill={INK}>
          {lt.major.map((v) => (
            <LogLabel key={`t${v}`} v={v} x={150} y={y(v) + 13} />
          ))}
          {ratioTickValues.map((v, i) => (
            <text key={`rt${v}`} x={150} y={yr(v) + 13} textAnchor="end">
              {ratioTickLabels[i]}
            </text>
          ))}
        </g>
      )}
      {row === 2 && (
        <g fontSize={37} fill={INK} textAnchor="middle">
          {xTickValues.map((v, i) => (
            <text key={`xt${v}`} x={x(v)} y={1900}>
              {xTickLabels[i]}
            </text>
          ))}
        </g>
      )}
    </g>
  );
}

const YTitle = ({ top }: { top: number }) => (
  <text transform={`translate(72,${top - 6}) rotate(-90)`} textAnchor="end" fontSize={36} fill={INK}>
    d<tspan dy={-14} fontSize={25}>2</tspan>
    <tspan dy={14}>N/(2π</tspan>
    <tspan fontStyle="italic">p</tspan>
    <tspan dy={8} fontSize={25}>T</tspan>
    <tspan dy={-8}> dyd</tspan>
    <tspan fontStyle="italic">p</tspan>
    <tspan dy={8} fontSize={25}>T</tspan>
    <tspan dy={-8}>) (GeV/</tspan>
    <tspan fontStyle="italic">c</tspan>
    <tspan>)</tspan>
    <tspan dy={-14} fontSize={25}>-2</tspan>
  </text>
);

export default function App() {
  return (
    <svg
      width={W}
      height={H}
      viewBox={`0 0 ${W} ${H}`}
      style={{ position: 'absolute', left: 0, top: 0, background: '#fff' }}
      fontFamily={FONT}
    >
      <rect x={0} y={0} width={W} height={H} fill="#fff" />
      {[0, 1, 2].map((row) => [0, 1, 2, 3, 4].map((col) => <Panel key={`${row}-${col}`} row={row} col={col} />))}

      {/* axis titles */}
      {specTop.map((t, i) => (
        <YTitle key={`yt${i}`} top={t} />
      ))}
      {specBottom.map((b, i) => (
        <text
          key={`rt${i}`}
          transform={`translate(78,${(b + ratioBottom[i]) / 2}) rotate(-90)`}
          textAnchor="middle"
          fontSize={34}
          fill={INK}
        >
          Ratio
        </text>
      ))}
      <text x={1440} y={1972} fontSize={52} fill={INK}>
        <tspan fontStyle="italic">p</tspan>
        <tspan dy={10} fontSize={34}>T</tspan>
        <tspan dy={-10}> (GeV/</tspan>
        <tspan fontStyle="italic">c</tspan>
        <tspan>)</tspan>
      </text>

      {/* energy labels */}
      <path d="M377,64 L384,59 L394,87 L404,40 L464,40" fill="none" stroke={INK} strokeWidth={2.6} />
      <text x={405} y={77} fontSize={40} fill={INK}>s</text>
      <text x={424} y={88} fontSize={27} fill={INK}>NN</text>
      <text x={energyRight[0]} y={77} fontSize={40} fill={INK} textAnchor="end">
        {`= ${energyLabels[0]} GeV`}
      </text>
      {energyLabels.slice(1).map((e, i) => (
        <text key={e} x={energyRight[i + 1]} y={77} fontSize={40} fill={INK} textAnchor="end">
          {`${e} GeV`}
        </text>
      ))}

      {/* particle labels */}
      <text x={2990} y={300} fontSize={52} fill={INK}>K</text>
      <text x={3025} y={272} fontSize={32} fill={INK}>0</text>
      <text x={3025} y={314} fontSize={32} fill={INK}>S</text>
      <text x={2988} y={905} fontSize={68} fontFamily={SERIF} fill={INK}>Λ</text>
      <text x={3014} y={1508} fontSize={66} fontFamily={SERIF} fill={INK} textAnchor="middle">ϕ</text>

      {/* legend */}
      {setLabels.map((s, i) => {
        const ly = [265, 314, 364, 412][i];
        return (
          <g key={s}>
            <Marker i={i} x={767} y={ly} />
            <text x={787} y={ly + 13} fontSize={38} fill={INK}>
              {s}
            </text>
          </g>
        );
      })}

      {/* annotations */}
      <text x={201} y={371} fontSize={40} fill={INK}>Central collisions</text>
      <text x={201} y={420} fontSize={40} fill={INK}>Au+Au, AMPT-SM</text>
      <text transform="translate(1898,199) rotate(25.5)" fontSize={58} fill="#ff1010">
        Preliminary data
      </text>
    </svg>
  );
}
